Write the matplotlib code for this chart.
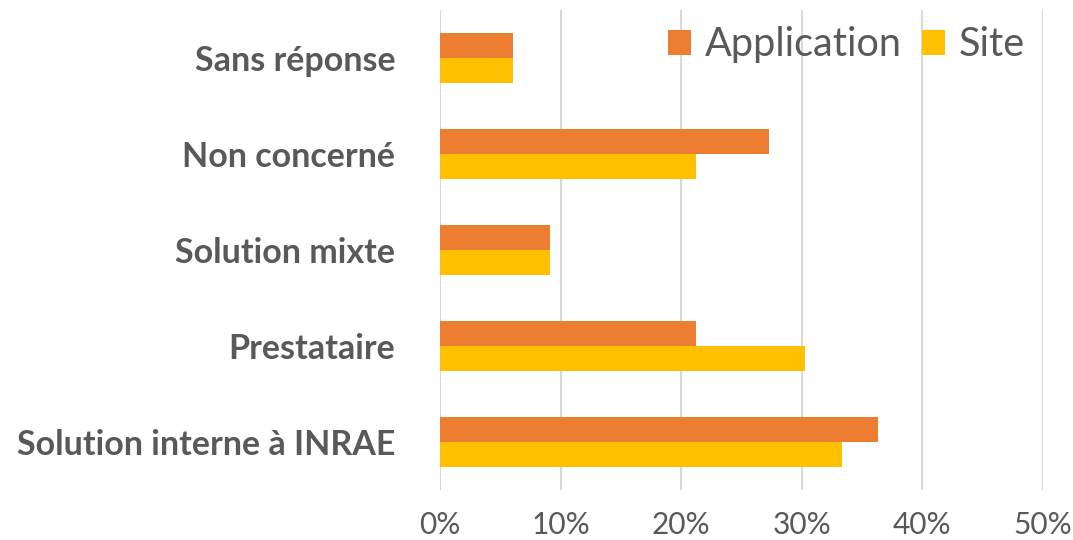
import matplotlib.pyplot as plt
import numpy as np

# --- données ---
categories = ["Solution interne à INRAE", "Prestataire", "Solution mixte",
              "Non concerné", "Sans réponse"]
application = [36.36, 21.21, 9.09, 27.27, 6.06]
site = [33.33, 30.30, 9.09, 21.21, 6.06]
ticks = [0, 10, 20, 30, 40, 50]

ORANGE = "#ED7D31"
JAUNE = "#FFC000"
GRIS = "#595959"

plt.rcParams['font.family'] = ['Lato', 'DejaVu Sans']

fig = plt.figure(figsize=(10.73, 5.4), dpi=100)
ax = fig.add_axes([0.410, 0.0926, 0.562, 0.889])

y = np.arange(len(categories))
h = 0.26
ax.barh(y + h/2, application, height=h, color=ORANGE, label="Application", zorder=3)
ax.barh(y - h/2, site, height=h, color=JAUNE, label="Site", zorder=3)

ax.set_xlim(0, 50)
ax.set_ylim(-0.5, 4.5)
ax.set_xticks(ticks)
ax.set_xticklabels([f"{t}%" for t in ticks])
ax.set_yticks(y)
ax.set_yticklabels(categories, fontweight='bold')

ax.grid(axis='x', color="#D9D9D9", linewidth=1.5, zorder=0)
for s in ax.spines.values():
    s.set_visible(False)
ax.tick_params(axis='both', length=0, colors=GRIS)
ax.tick_params(axis='x', labelsize=21.5, pad=15)
ax.tick_params(axis='y', labelsize=24.5, pad=32)

leg = ax.legend(loc='upper right', bbox_to_anchor=(0.955, 0.951),
                bbox_transform=fig.transFigure, ncol=2, frameon=False,
                fontsize=28.5, handlelength=0.58, handleheight=0.58,
                handletextpad=0.35, columnspacing=0.5,
                borderpad=0, borderaxespad=0)
for t in leg.get_texts():
    t.set_color(GRIS)

fig.savefig("out.png", dpi=100)
